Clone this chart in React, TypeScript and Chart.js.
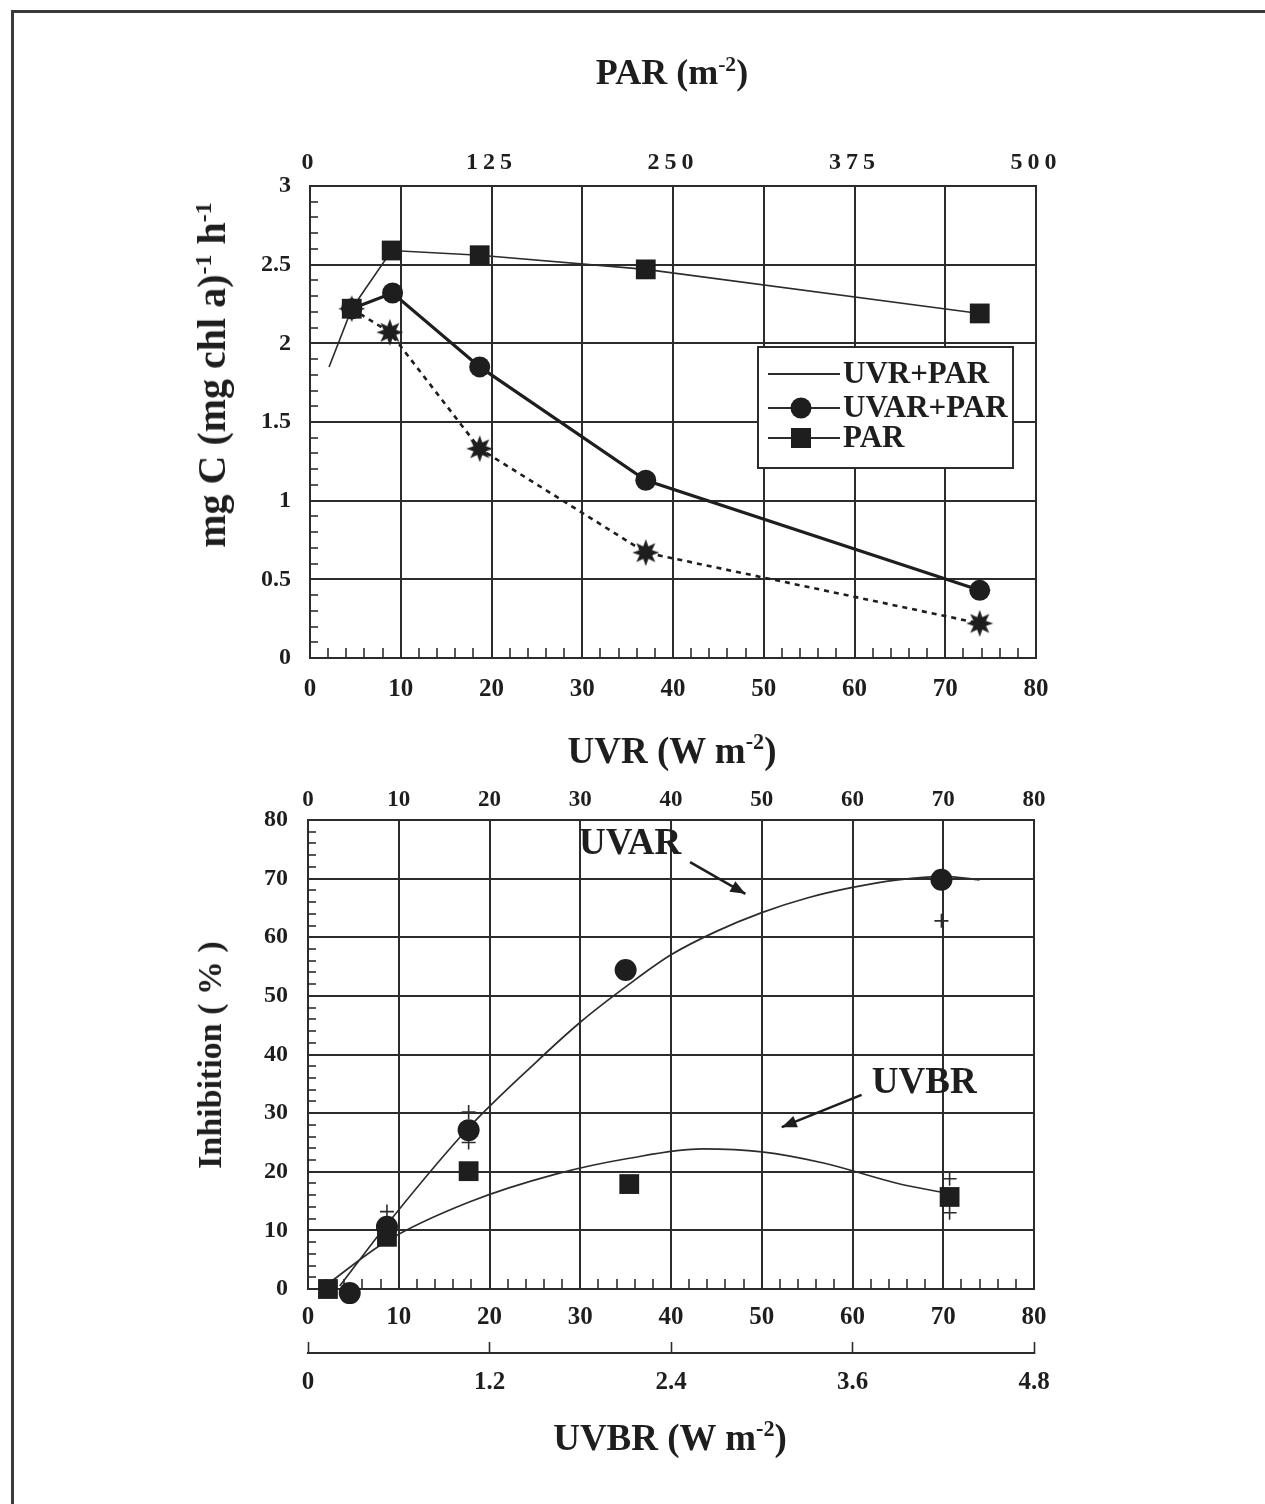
import React, { useEffect, useRef } from 'react';
import { Chart, registerables } from 'chart.js';

Chart.register(...registerables);

// ---------------- Top panel: mg C (mg chl a)^-1 h^-1 vs UVR (W m-2) ----------------
const parX = [2.1, 4.6, 9.0, 18.7, 37.0, 73.8];
const parY = [1.85, 2.22, 2.59, 2.56, 2.47, 2.19];
const uvarParX = [4.6, 9.1, 18.7, 37.0, 73.8];
const uvarParY = [2.22, 2.32, 1.85, 1.13, 0.43];
const uvrParX = [4.6, 8.8, 18.7, 37.0, 73.8];
const uvrParY = [2.22, 2.07, 1.33, 0.67, 0.22];
const topLegendLabels = ['UVR+PAR', 'UVAR+PAR', 'PAR'];
const topYTicks = [0, 0.5, 1, 1.5, 2, 2.5, 3];
const topXTicks = [0, 10, 20, 30, 40, 50, 60, 70, 80];
const parTicks = [0, 125, 250, 375, 500];

// ---------------- Bottom panel: Inhibition (%) vs UVR / UVBR ----------------
const uvarX = [4.6, 8.7, 17.7, 35.0, 69.8];
const uvarY = [-0.7, 10.6, 27.1, 54.4, 69.8];
const uvbrX = [2.2, 8.7, 17.7, 35.4, 70.7];
const uvbrY = [0.0, 8.9, 20.1, 17.9, 15.7];
const replX = [8.7, 17.7, 17.7, 69.8, 70.7, 70.7];
const replY = [13.2, 30.2, 25.0, 62.8, 18.8, 13.0];
const uvarFitX = [3.5, 8.7, 17.7, 25, 30, 35.4, 40, 45, 50, 55, 60, 65, 70, 74];
const uvarFitY = [0.5, 11.0, 27.5, 38.5, 45.5, 52.0, 57.0, 61.0, 64.2, 66.7, 68.5, 69.8, 70.4, 69.8];
const uvbrFitX = [1.7, 8.7, 17.7, 27.3, 35.4, 43.5, 50, 56.8, 65, 70.5];
const uvbrFitY = [0.3, 8.2, 14.8, 19.6, 22.3, 23.9, 23.4, 21.5, 18.0, 16.3];
const botYTicks = [0, 10, 20, 30, 40, 50, 60, 70, 80];
const botXTicks = [0, 10, 20, 30, 40, 50, 60, 70, 80];
const uvbrTicks = [0, 1.2, 2.4, 3.6, 4.8];
const noteLabels = ['UVAR', 'UVBR'];

const FONT = '"Liberation Serif", "Times New Roman", Times, serif';
const INK = '#1e1e1e';
const GRID = '#2c2c2c';
const CLEAR = 'rgba(0,0,0,0)';

const pts = (xs: number[], ys: number[]) => xs.map((x, i) => ({ x, y: ys[i] }));
const near = (v: number, list: number[]) => list.some((t) => Math.abs(t - v) < 1e-6);
const fmt = (v: number) => String(Math.round(v * 100) / 100);
const tf = (size: number) => ({ family: FONT, size, weight: 'bold' as const });

function fixBox(w?: number, h?: number) {
  return (s: any) => {
    if (w !== undefined) s.width = w;
    if (h !== undefined) s.height = h;
    s.paddingLeft = 0;
    s.paddingRight = 0;
    s.paddingTop = 0;
    s.paddingBottom = 0;
  };
}

function majorScale(opts: any) {
  const { major, step, min, max, position, size, padding, tickLength, w, h } = opts;
  return {
    type: 'linear',
    position,
    min,
    max,
    ticks: {
      stepSize: step,
      autoSkip: false,
      maxRotation: 0,
      minRotation: 0,
      padding,
      color: INK,
      font: tf(size),
      callback: (v: number) => (near(v, major) ? fmt(v) : ''),
    },
    grid: {
      display: true,
      drawOnChartArea: true,
      drawTicks: true,
      tickLength,
      lineWidth: 2,
      tickWidth: 1.6,
      tickColor: GRID,
      color: (c: any) => (c.tick && near(c.tick.value, major) ? GRID : CLEAR),
    },
    border: { display: true, color: GRID, width: 2 },
    afterFit: fixBox(w, h),
  };
}

function makeStar(): HTMLCanvasElement {
  const c = document.createElement('canvas');
  c.width = 30;
  c.height = 30;
  const g = c.getContext('2d')!;
  g.fillStyle = INK;
  g.beginPath();
  const n = 8;
  for (let i = 0; i < 2 * n; i++) {
    const a = -Math.PI / 2 + (i * Math.PI) / n;
    const r = i % 2 === 0 ? 13.5 : 6.8;
    const px = 15 + r * Math.cos(a);
    const py = 15 + r * Math.sin(a);
    if (i === 0) g.moveTo(px, py);
    else g.lineTo(px, py);
  }
  g.closePath();
  g.fill();
  return c;
}

const legendPlugin = {
  id: 'boxLegend',
  afterDatasetsDraw(chart: any) {
    const { ctx, chartArea: a } = chart;
    const left = a.left + 448;
    const top = a.top + 161;
    const w = 255;
    const h = 121;
    ctx.save();
    ctx.fillStyle = '#fff';
    ctx.fillRect(left, top, w, h);
    ctx.strokeStyle = GRID;
    ctx.lineWidth = 2;
    ctx.strokeRect(left, top, w, h);
    const rows = [27, 61, 91];
    ctx.font = `bold 31px ${FONT}`;
    ctx.textBaseline = 'middle';
    ctx.textAlign = 'left';
    topLegendLabels.forEach((lab, i) => {
      const y = top + rows[i];
      ctx.strokeStyle = GRID;
      ctx.lineWidth = 2;
      ctx.beginPath();
      ctx.moveTo(left + 10, y);
      ctx.lineTo(left + 82, y);
      ctx.stroke();
      ctx.fillStyle = INK;
      if (i === 1) {
        ctx.beginPath();
        ctx.arc(left + 43, y, 10.5, 0, Math.PI * 2);
        ctx.fill();
      } else if (i === 2) {
        ctx.fillRect(left + 33, y - 10, 20, 20);
      }
      ctx.fillText(lab, left + 85, y + 1);
    });
    ctx.restore();
  },
};

function drawArrow(ctx: CanvasRenderingContext2D, x1: number, y1: number, x2: number, y2: number) {
  ctx.beginPath();
  ctx.moveTo(x1, y1);
  ctx.lineTo(x2, y2);
  ctx.stroke();
  const a = Math.atan2(y2 - y1, x2 - x1);
  const L = 15;
  const W = 6;
  ctx.beginPath();
  ctx.moveTo(x2, y2);
  ctx.lineTo(x2 - L * Math.cos(a) + W * Math.sin(a), y2 - L * Math.sin(a) - W * Math.cos(a));
  ctx.lineTo(x2 - L * Math.cos(a) - W * Math.sin(a), y2 - L * Math.sin(a) + W * Math.cos(a));
  ctx.closePath();
  ctx.fill();
}

const notePlugin = {
  id: 'notes',
  afterDatasetsDraw(chart: any) {
    const { ctx } = chart;
    const xs = chart.scales.x;
    const ys = chart.scales.y;
    const px = (v: number) => xs.getPixelForValue(v);
    const py = (v: number) => ys.getPixelForValue(v);
    const textAt = [
      [35.5, 75.8],
      [67.9, 35.1],
    ];
    const from = [
      [42.1, 72.8],
      [61.0, 33.1],
    ];
    const to = [
      [48.2, 67.4],
      [52.2, 27.6],
    ];
    ctx.save();
    ctx.fillStyle = INK;
    ctx.strokeStyle = INK;
    ctx.lineWidth = 2.5;
    ctx.font = `bold 37px ${FONT}`;
    ctx.textAlign = 'center';
    ctx.textBaseline = 'middle';
    noteLabels.forEach((lab, i) => {
      ctx.fillText(lab, px(textAt[i][0]), py(textAt[i][1]));
      drawArrow(ctx, px(from[i][0]), py(from[i][1]), px(to[i][0]), py(to[i][1]));
    });
    ctx.restore();
  },
};

const titleStyle = (x: number, y: number, size: number, rotate = false): React.CSSProperties => ({
  position: 'absolute',
  left: x,
  top: y,
  transform: `translate(-50%, -50%)${rotate ? ' rotate(-90deg)' : ''}`,
  font: `bold ${size}px ${FONT}`,
  color: INK,
  whiteSpace: 'nowrap',
  lineHeight: 1,
});

const supStyle: React.CSSProperties = { fontSize: '0.6em', verticalAlign: '0.6em', lineHeight: 0 };

export default function App() {
  const topRef = useRef<HTMLCanvasElement>(null);
  const botRef = useRef<HTMLCanvasElement>(null);

  useEffect(() => {
    const star = makeStar();
    const parTickScale: any = {
      type: 'linear',
      position: 'top',
      min: 0,
      max: 500,
      afterBuildTicks: (s: any) => {
        s.ticks = parTicks.map((v) => ({ value: v }));
      },
      ticks: { autoSkip: false, maxRotation: 0, padding: 9, color: INK, font: tf(24) },
      grid: { display: false, drawTicks: false },
      border: { display: true, color: GRID, width: 2 },
      afterFit: (s: any) => {
        fixBox(undefined, 186)(s);
        if (!s.__ls) {
          const orig = s.drawLabels;
          s.drawLabels = function (area: any) {
            const c: any = this.ctx;
            const prev = c.letterSpacing;
            c.letterSpacing = '5px';
            orig.call(this, area);
            c.letterSpacing = prev || '0px';
          };
          s.__ls = true;
        }
      },
    };

    const topChart = new Chart(topRef.current as HTMLCanvasElement, {
      type: 'line',
      data: {
        datasets: [
          {
            label: 'PAR',
            data: pts(parX, parY),
            borderColor: GRID,
            borderWidth: 1.6,
            pointStyle: 'rect',
            pointRadius: (c: any) => (c.dataIndex === 0 ? 0 : 14),
            pointBackgroundColor: INK,
            pointBorderColor: INK,
            pointBorderWidth: 0,
            order: 0,
          },
          {
            label: 'UVAR+PAR',
            data: pts(uvarParX, uvarParY),
            borderColor: INK,
            borderWidth: 3.2,
            pointStyle: 'circle',
            pointRadius: 10.5,
            pointBackgroundColor: INK,
            pointBorderColor: INK,
            pointBorderWidth: 0,
            order: 1,
          },
          {
            label: 'UVR+PAR',
            data: pts(uvrParX, uvrParY),
            borderColor: INK,
            borderWidth: 2.6,
            borderDash: [5, 5],
            pointStyle: star,
            pointRadius: 13,
            order: 2,
          },
        ] as any,
      },
      options: {
        responsive: false,
        animation: false,
        devicePixelRatio: 1,
        events: [],
        layout: { padding: { left: 0, top: 0, right: 229, bottom: 0 } },
        plugins: { legend: { display: false }, tooltip: { enabled: false }, title: { display: false } },
        scales: {
          x: majorScale({ major: topXTicks, step: 2, min: 0, max: 80, position: 'bottom', size: 25, padding: 27, tickLength: -10, h: 62 }),
          xPar: parTickScale,
          y: majorScale({ major: topYTicks, step: 0.1, min: 0, max: 3, position: 'left', size: 24, padding: 27, tickLength: -8, w: 310 }),
        } as any,
      },
      plugins: [legendPlugin],
    } as any);

    const botChart = new Chart(botRef.current as HTMLCanvasElement, {
      type: 'line',
      data: {
        datasets: [
          {
            label: 'UVAR',
            data: pts(uvarX, uvarY),
            showLine: false,
            pointStyle: 'circle',
            pointRadius: 11,
            pointBackgroundColor: INK,
            pointBorderColor: INK,
            pointBorderWidth: 0,
            clip: false,
            order: 0,
          },
          {
            label: 'UVBR',
            data: pts(uvbrX, uvbrY),
            showLine: false,
            pointStyle: 'rect',
            pointRadius: 14,
            pointBackgroundColor: INK,
            pointBorderColor: INK,
            pointBorderWidth: 0,
            clip: false,
            order: 1,
          },
          {
            label: 'Replicates',
            data: pts(replX, replY),
            showLine: false,
            pointStyle: 'cross',
            pointRadius: 7,
            pointBorderColor: GRID,
            pointBorderWidth: 1.6,
            clip: false,
            order: 2,
          },
          {
            label: 'UVAR fit',
            data: pts(uvarFitX, uvarFitY),
            borderColor: GRID,
            borderWidth: 1.7,
            pointRadius: 0,
            cubicInterpolationMode: 'monotone',
            clip: false,
            order: 3,
          },
          {
            label: 'UVBR fit',
            data: pts(uvbrFitX, uvbrFitY),
            borderColor: GRID,
            borderWidth: 1.7,
            pointRadius: 0,
            cubicInterpolationMode: 'monotone',
            clip: false,
            order: 4,
          },
        ] as any,
      },
      options: {
        responsive: false,
        animation: false,
        devicePixelRatio: 1,
        events: [],
        layout: { padding: { left: 0, top: 0, right: 231, bottom: 0 } },
        plugins: { legend: { display: false }, tooltip: { enabled: false }, title: { display: false } },
        scales: {
          x: { ...majorScale({ major: botXTicks, step: 2, min: 0, max: 80, position: 'bottom', size: 25, padding: 24, tickLength: -10, h: 64 }), weight: 0 },
          xTop: {
            type: 'linear',
            position: 'top',
            min: 0,
            max: 80,
            ticks: { stepSize: 10, autoSkip: false, maxRotation: 0, padding: 6.5, color: INK, font: tf(23) },
            grid: { display: false, drawTicks: false },
            border: { display: true, color: GRID, width: 2 },
            afterFit: fixBox(undefined, 100),
          },
          xb: {
            type: 'linear',
            position: 'bottom',
            weight: 1,
            min: 0,
            max: 4.8,
            afterBuildTicks: (s: any) => {
              s.ticks = uvbrTicks.map((v) => ({ value: v }));
            },
            ticks: { autoSkip: false, maxRotation: 0, padding: 26, color: INK, font: tf(25), callback: (v: number) => fmt(v) },
            grid: { display: true, drawOnChartArea: false, drawTicks: true, tickLength: -11, tickWidth: 1.6, tickColor: GRID, color: GRID },
            border: { display: true, color: GRID, width: 2 },
            afterFit: fixBox(undefined, 151),
          },
          y: majorScale({ major: botYTicks, step: 2, min: 0, max: 80, position: 'left', size: 24, padding: 28, tickLength: -8, w: 308 }),
        } as any,
      },
      plugins: [notePlugin],
    } as any);

    return () => {
      topChart.destroy();
      botChart.destroy();
    };
  }, []);

  return (
    <div style={{ position: 'absolute', left: 0, top: 0, width: 1265, height: 1504, background: '#fff', overflow: 'hidden' }}>
      <div
        style={{
          position: 'absolute',
          left: 11,
          top: 10,
          width: 1265,
          height: 1504,
          borderLeft: '3px solid #3a3a3a',
          borderTop: '3px solid #3a3a3a',
        }}
      />
      <canvas ref={topRef} width={1265} height={720} style={{ position: 'absolute', left: 0, top: 0, display: 'block' }} />
      <canvas ref={botRef} width={1265} height={784} style={{ position: 'absolute', left: 0, top: 720, display: 'block' }} />
      <div style={titleStyle(672, 72, 36)}>
        PAR (m<sup style={supStyle}>-2</sup>)
      </div>
      <div style={titleStyle(672, 750, 37)}>
        UVR (W m<sup style={supStyle}>-2</sup>)
      </div>
      <div style={titleStyle(670, 1437, 37)}>
        UVBR (W m<sup style={supStyle}>-2</sup>)
      </div>
      <div style={titleStyle(212, 375, 40, true)}>
        mg C (mg chl a)<sup style={supStyle}>-1</sup> h<sup style={supStyle}>-1</sup>
      </div>
      <div style={titleStyle(210, 1055, 34, true)}>Inhibition ( % )</div>
    </div>
  );
}
